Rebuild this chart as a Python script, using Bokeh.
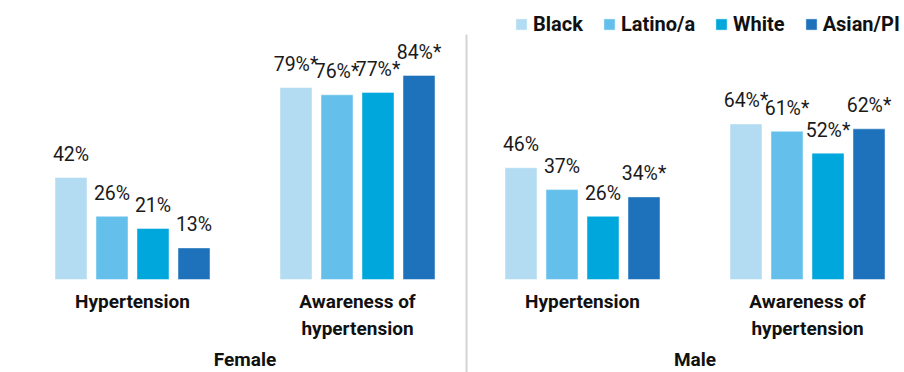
from bokeh.plotting import figure
from bokeh.models import ColumnDataSource, Range1d, Legend, LegendItem
from bokeh.core.properties import value
from bokeh.embed import file_html
from bokeh.resources import INLINE

# ---- data ----
sexes = ["Female", "Male"]
measures = ["Hypertension", "Awareness of\nhypertension"]
races = ["Black", "Latino/a", "White", "Asian/PI"]
colors = ["#b3dcf3", "#64c0eb", "#00a7dd", "#1e72bb"]

# values per race, order: Female-Hyp, Female-Aware, Male-Hyp, Male-Aware
black = [42, 79, 46, 64]
latino = [26, 76, 37, 61]
white = [21, 77, 26, 52]
asian = [13, 84, 34, 62]
series = [black, latino, white, asian]

# significance flags (asterisk), same ordering
black_sig = [False, True, False, True]
latino_sig = [False, True, False, True]
white_sig = [False, True, False, True]
asian_sig = [False, True, True, True]
sigs = [black_sig, latino_sig, white_sig, asian_sig]

W, H = 904, 372
PX_PER_PCT = 2.43
BASE_PX = 279           # pixel row of 0 %
GROUP_PX0, GROUP_STEP = 132, 225
FIX = 7                 # baseline correction in px

y_top = BASE_PX / PX_PER_PCT
y_bot = -(H - BASE_PX) / PX_PER_PCT
x_start = -GROUP_PX0 / GROUP_STEP
x_end = (W - GROUP_PX0) / GROUP_STEP

p = figure(width=W, height=H, output_backend="svg", toolbar_location=None,
           x_range=Range1d(x_start, x_end), y_range=Range1d(y_bot, y_top),
           x_axis_location=None, y_axis_location=None, min_border=0)
p.outline_line_color = None
p.xgrid.visible = False
p.ygrid.visible = False
p.background_fill_color = "white"
p.border_fill_color = "white"

pitch = 41 / GROUP_STEP
bar_w = 32 / GROUP_STEP
groups = list(range(len(sexes) * len(measures)))

FONT = value("Roboto")
renderers = []
for ri, (name, vals, col, sg) in enumerate(zip(races, series, colors, sigs)):
    xs = [g + (ri - 1.5) * pitch for g in groups]
    src = ColumnDataSource(dict(
        x=xs, top=vals,
        ly=[v + (16 + FIX) / PX_PER_PCT for v in vals],
        txt=[f"{v}%" + ("*" if s else "") for v, s in zip(vals, sg)],
    ))
    r = p.vbar(x="x", top="top", bottom=0, width=bar_w, source=src,
               fill_color=col, line_color="white", line_alpha=0.45, line_width=1)
    renderers.append(r)
    p.text(x="x", y="ly", text="txt", source=src, text_align="center",
           text_baseline="alphabetic", text_font=FONT,
           text_font_size="19.5px", text_color="#1a1a1a")

# category labels
cat_x, cat_y, cat_t = [], [], []
for si, s in enumerate(sexes):
    for mi, m in enumerate(measures):
        g = si * len(measures) + mi
        for li, line in enumerate(m.split("\n")):
            cat_x.append(g)
            cat_y.append(-(29 - FIX + 27 * li) / PX_PER_PCT)
            cat_t.append(line)
p.text(x=cat_x, y=cat_y, text=cat_t, text_align="center", text_baseline="alphabetic",
       text_font=FONT, text_font_style="bold", text_font_size="19px",
       text_color="#111111")

# sex labels
sx = [si * len(measures) + (len(measures) - 1) / 2 for si in range(len(sexes))]
sy = [-(87 - FIX) / PX_PER_PCT] * len(sexes)
p.text(x=sx, y=sy, text=sexes, text_align="center", text_baseline="alphabetic",
       text_font=FONT, text_font_style="bold", text_font_size="19px",
       text_color="#111111")

# divider between sexes
div_x = (466 - GROUP_PX0) / GROUP_STEP
p.segment(x0=[div_x], x1=[div_x], y0=[(BASE_PX - 34) / PX_PER_PCT], y1=[y_bot],
          line_color="#d4d4d4", line_width=2)

legend = Legend(items=[LegendItem(label=n, renderers=[r]) for n, r in zip(races, renderers)],
                orientation="horizontal", location=(514, 336),
                glyph_width=14, glyph_height=14, label_standoff=5, spacing=19,
                padding=0, margin=0, border_line_color=None,
                background_fill_alpha=0,
                label_text_font="Roboto", label_text_font_style="bold",
                label_text_font_size="20px", label_text_color="#111111")
p.add_layout(legend)

open("out.html", "w").write(file_html(p, INLINE))
